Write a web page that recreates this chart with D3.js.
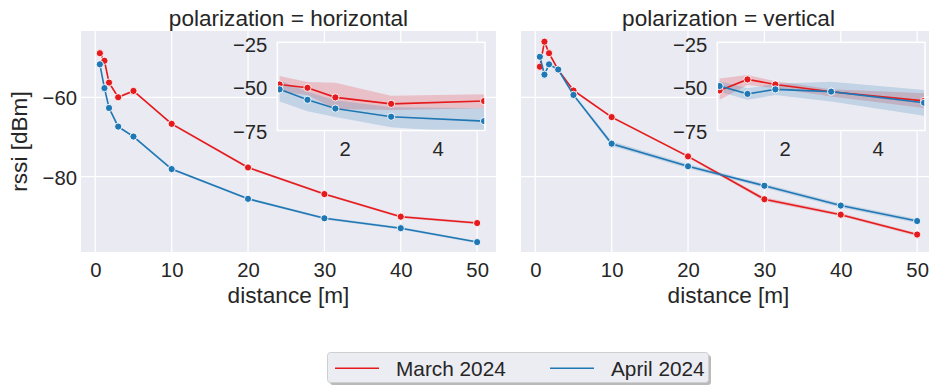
<!DOCTYPE html>
<html>
<head>
<meta charset="utf-8">
<script src="https://cdn.jsdelivr.net/npm/d3@7"></script>
<style>
  html, body { margin: 0; padding: 0; background: #ffffff; overflow: hidden; }
  svg { display: block; font-family: "Liberation Sans", Arial, sans-serif; }
</style>
</head>
<body>
<svg id="chart" width="929" height="392"></svg>
<script>
// distance of each measurement point [m]
const distance = [0.6, 1.2, 1.8, 3, 5, 10, 20, 30, 40, 50];

// mean RSSI [dBm] per campaign and polarization
const horizMarch = [-48.9, -50.8, -56.3, -60.0, -58.4, -66.7, -77.7, -84.4, -90.1, -91.7];
const horizApril = [-51.7, -57.7, -62.7, -67.4, -69.9, -78.1, -85.6, -90.5, -93.0, -96.5];
const vertMarch  = [-52.3, -46.0, -48.9, -53.1, -58.3, -65.0, -74.9, -85.7, -89.6, -94.6];
const vertApril  = [-49.8, -54.3, -51.7, -53.0, -59.4, -71.7, -77.4, -82.3, -87.3, -91.2];

// confidence half-width [dB] of the mean, main panels
const horizMarchCi = [0.3, 0.3, 0.3, 0.3, 0.3, 0.3, 0.3, 0.3, 0.3, 0.3];
const horizAprilCi = [0.3, 0.3, 0.3, 0.3, 0.3, 0.3, 0.3, 0.3, 0.3, 0.3];
const vertMarchCi  = [0.5, 0.5, 0.5, 0.3, 0.3, 0.3, 0.3, 0.5, 0.4, 0.4];
const vertAprilCi  = [0.3, 0.3, 0.3, 0.3, 0.4, 0.6, 0.5, 0.5, 0.5, 0.5];

// spread bands for the near-range close-ups (first five distances)
const horizMarchLo = [-53.0, -55.0, -63.0, -63.5, -62.5];
const horizMarchHi = [-44.0, -47.5, -47.9, -55.3, -54.5];
const horizAprilLo = [-58.7, -64.3, -67.5, -73.5, -77.0];
const horizAprilHi = [-46.5, -53.0, -58.0, -62.0, -62.5];
const vertMarchLo  = [-57.7, -49.2, -51.0, -55.8, -62.4];
const vertMarchHi  = [-45.4, -43.5, -47.0, -51.7, -53.9];
const vertAprilLo  = [-53.0, -57.7, -55.0, -58.7, -66.8];
const vertAprilHi  = [-47.0, -51.1, -48.5, -47.3, -52.0];

// tick values and labels
const xTicks = [0, 10, 20, 30, 40, 50];
const yTicks = [-60, -80];
const insetXTicks = [2, 4];
const insetYTicks = [-25, -50, -75];
const campaigns = ["March 2024", "April 2024"];
const colors = ["#e41a1c", "#1f77b4"];
const panelTitles = ["polarization = horizontal", "polarization = vertical"];

const panels = [
  {
    title: panelTitles[0],
    series: [
      { y: horizMarch, ci: horizMarchCi, lo: horizMarchLo, hi: horizMarchHi },
      { y: horizApril, ci: horizAprilCi, lo: horizAprilLo, hi: horizAprilHi }
    ],
    left: 81, showY: true
  },
  {
    title: panelTitles[1],
    series: [
      { y: vertMarch, ci: vertMarchCi, lo: vertMarchLo, hi: vertMarchHi },
      { y: vertApril, ci: vertAprilCi, lo: vertAprilLo, hi: vertAprilHi }
    ],
    left: 521, showY: false
  }
];

const svg = d3.select("#chart");
const BG = "#eaeaf2", TXT = "#262626";
const TICK_FS = 20.3, LABEL_FS = 22.6;
const plotW = 415, plotTop = 31, plotBottom = 252;
const insetOffset = 196.3, insetW = 207.7, insetTop = 42.3, insetBottom = 130.5;

const y = d3.scaleLinear().domain([-99, -43.3]).range([plotBottom, plotTop]);
const yIn = d3.scaleLinear().domain([-75.3, -24.7]).range([insetBottom, insetTop]);

const defs = svg.append("defs");

panels.forEach((p, pi) => {
  const x = d3.scaleLinear().domain([-1.87, 52.47]).range([p.left, p.left + plotW]);
  const g = svg.append("g");

  // background and grid
  g.append("rect").attr("x", p.left).attr("y", plotTop)
    .attr("width", plotW).attr("height", plotBottom - plotTop).attr("fill", BG);
  g.append("g").selectAll("line").data(xTicks).join("line")
    .attr("x1", d => x(d)).attr("x2", d => x(d))
    .attr("y1", plotTop).attr("y2", plotBottom)
    .attr("stroke", "#fff").attr("stroke-width", 1.25);
  g.append("g").selectAll("line").data(yTicks).join("line")
    .attr("x1", p.left).attr("x2", p.left + plotW)
    .attr("y1", d => y(d)).attr("y2", d => y(d))
    .attr("stroke", "#fff").attr("stroke-width", 1.25);

  // x axis
  const xAxis = g.append("g").attr("transform", `translate(0,${plotBottom})`)
    .call(d3.axisBottom(x).tickValues(xTicks).tickSize(0).tickPadding(0).tickFormat(d3.format("d")));
  xAxis.select(".domain").remove();
  xAxis.selectAll("text").attr("y", 25).attr("dy", null)
    .attr("font-size", TICK_FS).attr("fill", TXT).attr("font-family", "Liberation Sans, Arial, sans-serif");

  // y axis (left panel only)
  if (p.showY) {
    const yAxis = g.append("g").attr("transform", `translate(${p.left},0)`)
      .call(d3.axisLeft(y).tickValues(yTicks).tickSize(0).tickPadding(4)
        .tickFormat(d => d3.format("d")(d).replace("-", "\u2212")));
    yAxis.select(".domain").remove();
    yAxis.selectAll("text").attr("dy", "0.38em")
      .attr("font-size", TICK_FS).attr("fill", TXT).attr("font-family", "Liberation Sans, Arial, sans-serif");
    svg.append("text")
      .attr("transform", `translate(27,${(plotTop + plotBottom) / 2}) rotate(-90)`)
      .attr("text-anchor", "middle").attr("font-size", LABEL_FS).attr("fill", TXT)
      .text("rssi [dBm]");
  }

  // titles
  svg.append("text").attr("x", p.left + plotW / 2).attr("y", 26)
    .attr("text-anchor", "middle").attr("font-size", LABEL_FS).attr("fill", TXT)
    .text(p.title);
  svg.append("text").attr("x", p.left + plotW / 2).attr("y", 302.5)
    .attr("text-anchor", "middle").attr("font-size", LABEL_FS).attr("fill", TXT)
    .text("distance [m]");

  // clip for main data
  const clipId = `clip-main-${pi}`;
  defs.append("clipPath").attr("id", clipId).append("rect")
    .attr("x", p.left).attr("y", plotTop).attr("width", plotW).attr("height", plotBottom - plotTop);
  const data = g.append("g").attr("clip-path", `url(#${clipId})`);

  p.series.forEach((s, si) => {
    const pts = distance.map((d, i) => ({ d, v: s.y[i], ci: s.ci[i] }));
    data.append("path").datum(pts)
      .attr("d", d3.area().x(q => x(q.d)).y0(q => y(q.v - q.ci)).y1(q => y(q.v + q.ci)))
      .attr("fill", colors[si]).attr("fill-opacity", 0.2);
  });
  p.series.forEach((s, si) => {
    const pts = distance.map((d, i) => ({ d, v: s.y[i] }));
    data.append("path").datum(pts)
      .attr("d", d3.line().x(q => x(q.d)).y(q => y(q.v)))
      .attr("fill", "none").attr("stroke", colors[si]).attr("stroke-width", 1.6);
    data.append("g").selectAll("circle").data(pts).join("circle")
      .attr("cx", q => x(q.d)).attr("cy", q => y(q.v)).attr("r", 3.6)
      .attr("fill", colors[si]).attr("stroke", "#fff").attr("stroke-width", 0.9);
  });

  // inset: close-up of the first five distances
  const ix0 = p.left + insetOffset;
  const xIn = d3.scaleLinear().domain([0.55, 5.02]).range([ix0, ix0 + insetW]);
  const ig = svg.append("g");
  ig.append("rect").attr("x", ix0).attr("y", insetTop)
    .attr("width", insetW).attr("height", insetBottom - insetTop).attr("fill", BG);

  const iClip = `clip-inset-${pi}`;
  defs.append("clipPath").attr("id", iClip).append("rect")
    .attr("x", ix0).attr("y", insetTop).attr("width", insetW).attr("height", insetBottom - insetTop);
  const idata = ig.append("g").attr("clip-path", `url(#${iClip})`);
  const near = distance.slice(0, 5);

  p.series.forEach((s, si) => {
    const pts = near.map((d, i) => ({ d, lo: s.lo[i], hi: s.hi[i] }));
    idata.append("path").datum(pts)
      .attr("d", d3.area().x(q => xIn(q.d)).y0(q => yIn(q.lo)).y1(q => yIn(q.hi)))
      .attr("fill", colors[si]).attr("fill-opacity", 0.2);
  });
  p.series.forEach((s, si) => {
    const pts = near.map((d, i) => ({ d, v: s.y[i] }));
    idata.append("path").datum(pts)
      .attr("d", d3.line().x(q => xIn(q.d)).y(q => yIn(q.v)))
      .attr("fill", "none").attr("stroke", colors[si]).attr("stroke-width", 1.6);
    idata.append("g").selectAll("circle").data(pts).join("circle")
      .attr("cx", q => xIn(q.d)).attr("cy", q => yIn(q.v)).attr("r", 3.6)
      .attr("fill", colors[si]).attr("stroke", "#fff").attr("stroke-width", 0.9);
  });
  ig.append("rect").attr("x", ix0).attr("y", insetTop)
    .attr("width", insetW).attr("height", insetBottom - insetTop)
    .attr("fill", "none").attr("stroke", "#fff").attr("stroke-width", 1.5);

  const ixAxis = ig.append("g").attr("transform", `translate(0,${insetBottom})`)
    .call(d3.axisBottom(xIn).tickValues(insetXTicks).tickSize(0).tickPadding(0).tickFormat(d3.format("d")));
  ixAxis.select(".domain").remove();
  ixAxis.selectAll("text").attr("y", 25).attr("dy", null)
    .attr("font-size", TICK_FS).attr("fill", TXT).attr("font-family", "Liberation Sans, Arial, sans-serif");
  const iyAxis = ig.append("g").attr("transform", `translate(${ix0},0)`)
    .call(d3.axisLeft(yIn).tickValues(insetYTicks).tickSize(0).tickPadding(10)
      .tickFormat(d => d3.format("d")(d).replace("-", "\u2212")));
  iyAxis.select(".domain").remove();
  iyAxis.selectAll("text").attr("dy", "0.42em")
    .attr("font-size", TICK_FS).attr("fill", TXT).attr("font-family", "Liberation Sans, Arial, sans-serif");
});

// legend
const lg = svg.append("g");
const lx = 327.5, ly = 352.5, lw = 381, lh = 30;
lg.append("rect").attr("x", lx + 2.5).attr("y", ly + 2.5).attr("width", lw).attr("height", lh)
  .attr("rx", 3).attr("fill", "#8c8c8c").attr("fill-opacity", 0.6);
lg.append("rect").attr("x", lx).attr("y", ly).attr("width", lw).attr("height", lh)
  .attr("rx", 3).attr("fill", "#ececf3").attr("stroke", "#cfcfcf").attr("stroke-width", 1);
const entryX = [335, 550];
campaigns.forEach((c, i) => {
  lg.append("line").attr("x1", entryX[i]).attr("x2", entryX[i] + 44)
    .attr("y1", 368.3).attr("y2", 368.3)
    .attr("stroke", colors[i]).attr("stroke-width", 1.6);
  lg.append("text").attr("x", entryX[i] + 61).attr("y", 375.5)
    .attr("font-size", 20.8).attr("fill", TXT).text(c);
});
</script>
</body>
</html>
